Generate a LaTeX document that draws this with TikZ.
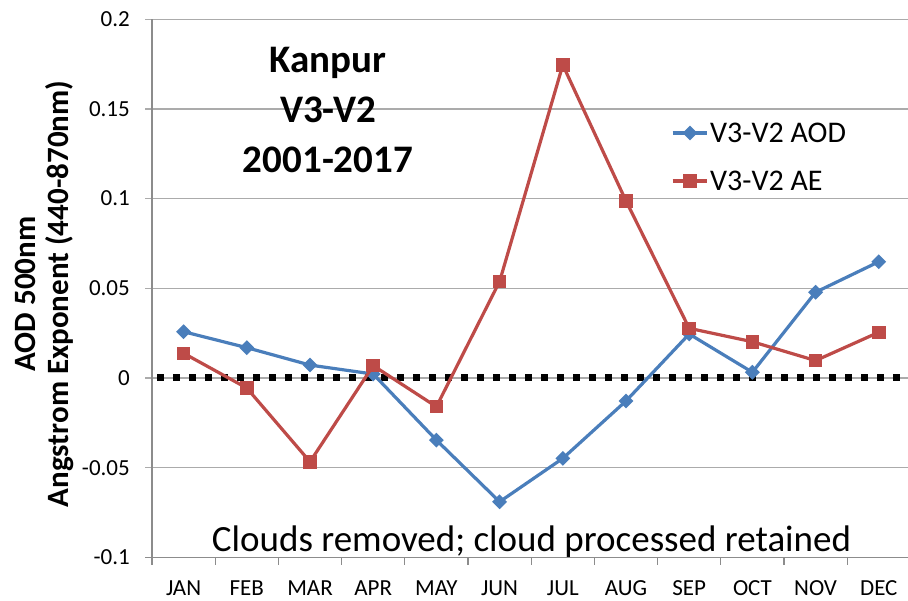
\documentclass[tikz,border=0pt]{standalone}
\usepackage{fontspec}
\setmainfont{Carlito}
\usetikzlibrary{shapes.geometric}
\definecolor{aodblue}{HTML}{4A7EBB}
\definecolor{aered}{HTML}{BE4B48}
\definecolor{gridgray}{HTML}{ABABAB}
\definecolor{axisgray}{HTML}{8C8C8C}

\begin{document}
\begin{tikzpicture}[x=1pt,y=1pt,
  gridline/.style={draw=gridgray,line width=1.2pt},
  axisline/.style={draw=axisgray,line width=1.2pt},
  ticklab/.style={inner sep=0pt,font=\fontsize{23}{23}\selectfont},
  zeroline/.style={draw=black,line width=7pt,dash pattern=on 7pt off 9pt},
  aodline/.style={draw=aodblue,line width=3.2pt},
  aeline/.style={draw=aered,line width=3.2pt},
  aodmark/.style={diamond,fill=aodblue,inner sep=0pt,minimum width=15pt,minimum height=15pt},
  aemark/.style={rectangle,fill=aered,inner sep=0pt,minimum size=13.5pt}]
\useasboundingbox (0,0) rectangle (908,600);

% plot area: one unit in x per month, values in y
\begin{scope}[shift={(120.4,222)},x=63.2pt,y=1794pt]
  % gridlines and axes
  \foreach \g in {-0.05,0,0.05,0.1,0.15,0.2}
    \draw[gridline] (0.39,\g) -- (12.5,\g);
  \draw[axisline] (0.5,-0.1) -- (0.5,0.2);
  \draw[axisline] (0.39,-0.1) -- (12.5,-0.1);
  \foreach \k in {0,...,12}
    \draw[axisline] (\k+0.5,-0.1) -- ++(0,-8pt);
  % tick labels
  \foreach \g [count=\n] in {-0.1,-0.05,0,0.05,0.1,0.15,0.2}
    \node[ticklab,anchor=east] (yt\n) at ([xshift=-22pt]0.5,\g) {\g};
  \foreach \m [count=\i] in {JAN,FEB,MAR,APR,MAY,JUN,JUL,AUG,SEP,OCT,NOV,DEC}
    \node[ticklab] (xt\i) at ([yshift=-30.5pt]\i,-0.1) {\m};
  % zero reference
  \coordinate (z0) at (0.58,0);
  \coordinate (z1) at (12.4,0);
  \draw[zeroline] (z0) -- (z1);
  % data
  \foreach \v [count=\i] in {0.0258,0.0169,0.0072,0.0022,-0.0346,-0.069,-0.0448,-0.0128,0.0245,0.0032,0.0478,0.0648}
    \coordinate (a\i) at (\i,\v);
  \foreach \v [count=\i] in {0.0138,-0.0056,-0.0467,0.0069,-0.016,0.0538,0.1745,0.0987,0.0277,0.0202,0.0097,0.0255}
    \coordinate (e\i) at (\i,\v);
  \draw[aodline] (a1) \foreach \i in {2,...,12} { -- (a\i) };
  \foreach \i in {1,...,12}
    \node[aodmark] (am\i) at (a\i) {};
  \draw[aeline] (e1) \foreach \i in {2,...,12} { -- (e\i) };
  \foreach \i in {1,...,12}
    \node[aemark] (em\i) at (e\i) {};
\end{scope}

% axis title
\node[rotate=90,align=center,font=\bfseries\fontsize{31}{33}\selectfont] (ytitle) at (44,306)
  {AOD 500nm\\Angstrom Exponent (440-870nm)};

% chart title
\node[align=center,font=\bfseries\fontsize{39}{50}\selectfont] (title) at (328,490)
  {Kanpur\\V3-V2\\2001-2017};

% legend
\coordinate (la0) at (672.7,467);
\coordinate (la1) at (707,467);
\draw[aodline] (la0) -- (la1);
\node[aodmark] (lam) at (690,467) {};
\node[anchor=west,inner sep=0pt,font=\fontsize{30}{30}\selectfont] (laod) at (710,467) {V3-V2 AOD};
\coordinate (le0) at (672.7,419);
\coordinate (le1) at (707,419);
\draw[aeline] (le0) -- (le1);
\node[aemark] (lem) at (690,419) {};
\node[anchor=west,inner sep=0pt,font=\fontsize{30}{30}\selectfont] (lae) at (710,419) {V3-V2 AE};

% note
\node[anchor=base,inner sep=0pt,font=\fontsize{37}{37}\selectfont] (note) at (531.5,48)
  {Clouds removed; cloud processed retained};
\end{tikzpicture}
\end{document}
